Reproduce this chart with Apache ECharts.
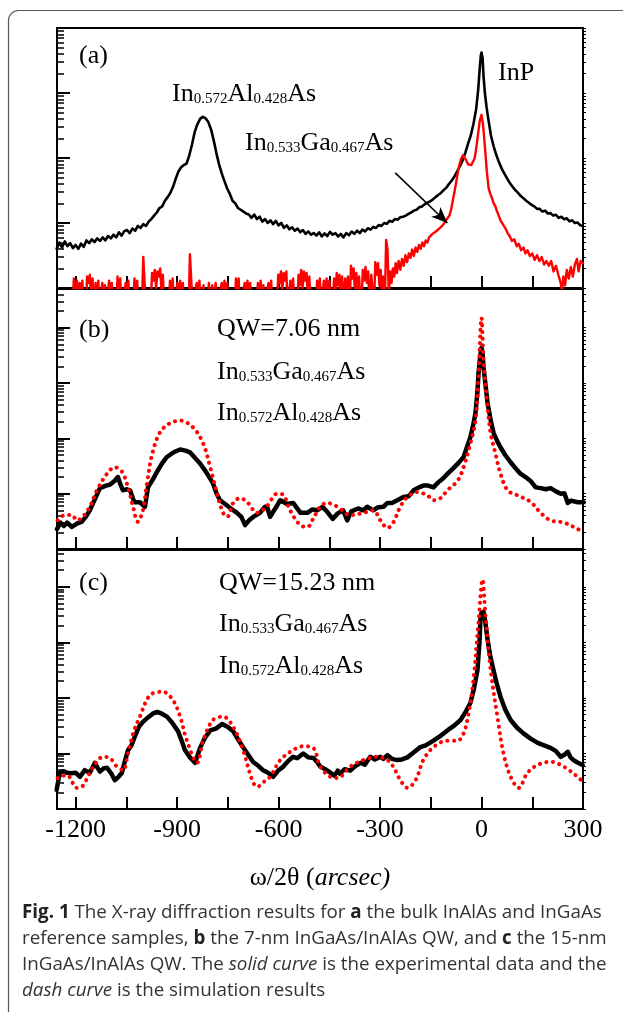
<!DOCTYPE html>
<html><head><meta charset="utf-8">
<script src="https://cdn.jsdelivr.net/npm/echarts@6/dist/echarts.min.js"></script>
<style>html,body{margin:0;padding:0;background:#fff}#c{width:623px;height:1012px}</style>
</head><body><div id="c"></div>
<script>
// ---- tick values ----
const xTickValues = [-1200,-1050,-900,-750,-600,-450,-300,-150,0,150,300];
const xLabelValues = [-1200,-900,-600,-300,0,300];
const yMajorA = [1,10,100,1000,10000];
const yMinorA = [2,3,4,5,6,7,8,9,20,30,40,50,60,70,80,90,200,300,400,500,600,700,800,900,2000,3000,4000,5000,6000,7000,8000,9000];
const yMajorBC = [1,10,100,1000,10000];
const yMinorBC = [2,3,4,5,6,7,8,9,20,30,40,50,60,70,80,90,200,300,400,500,600,700,800,900,2000,3000,4000,5000,6000,7000,8000,9000,20000,30000,40000];

// ---- panel (a): bulk reference samples ----
const panelA_black = [[-1256,4.0],[-1248,5.0],[-1240,4.2],[-1232,5.2],[-1224,4.4],[-1216,4.9],[-1208,4.1],[-1200,4.6],[-1192,4.0],[-1184,4.8],[-1176,4.3],[-1168,5.4],[-1160,4.9],[-1152,5.6],[-1144,5.1],[-1136,5.8],[-1128,5.3],[-1120,6.0],[-1112,5.4],[-1104,6.3],[-1096,5.8],[-1088,6.6],[-1080,6.0],[-1072,7.2],[-1064,6.4],[-1056,7.5],[-1048,7.8],[-1040,7.0],[-1032,8.2],[-1024,7.6],[-1016,9.0],[-1008,8.4],[-1000,9.6],[-992,9.0],[-984,10.5],[-976,11.5],[-968,13.0],[-960,14.5],[-952,17],[-944,18],[-936,22],[-928,25],[-920,29],[-912,36],[-904,48],[-896,62],[-888,72],[-880,78],[-872,82],[-864,110],[-856,160],[-848,250],[-840,330],[-832,400],[-824,430],[-816,410],[-808,360],[-800,280],[-792,190],[-784,120],[-776,80],[-768,58],[-760,44],[-752,34],[-744,28],[-736,22],[-728,20],[-720,17],[-712,16],[-704,15],[-696,14],[-688,13.5],[-680,12],[-672,13.5],[-664,11.5],[-656,12.5],[-648,10.5],[-640,11.5],[-632,10],[-624,11],[-616,9.6],[-608,10.8],[-600,9.2],[-592,10],[-584,8.4],[-576,9.2],[-568,8.0],[-560,8.6],[-552,7.6],[-544,8.2],[-536,7.2],[-528,7.8],[-520,6.8],[-512,7.4],[-504,6.6],[-496,7.0],[-488,6.4],[-480,7.2],[-472,6.2],[-464,6.9],[-456,6.3],[-448,7.3],[-440,6.6],[-432,7.0],[-424,6.2],[-416,6.8],[-408,6.0],[-400,7.0],[-392,6.5],[-384,7.4],[-376,6.8],[-368,7.6],[-360,7.0],[-352,7.9],[-344,7.4],[-336,8.3],[-328,7.9],[-320,8.7],[-312,8.4],[-304,9.3],[-296,9.0],[-288,10],[-280,9.7],[-272,10.8],[-264,10.4],[-256,11.5],[-248,11.2],[-240,12.3],[-232,12.5],[-224,13],[-216,13.8],[-208,14.5],[-200,15.5],[-192,16],[-184,17.5],[-176,18],[-168,19.5],[-160,20.5],[-152,21.5],[-144,23],[-136,25],[-128,27],[-120,29],[-112,32],[-104,35],[-96,40],[-88,45],[-80,52],[-72,62],[-64,75],[-56,92],[-48,120],[-40,165],[-32,220],[-24,330],[-16,560],[-10,1100],[-5,2500],[-2,3800],[0,4200],[3,3500],[6,1800],[10,1000],[15,600],[20,400],[28,220],[36,150],[44,110],[52,85],[60,68],[68,57],[76,48],[84,41],[92,36],[100,32],[108,29],[116,26],[124,24],[132,22],[140,20.5],[148,19],[156,18],[164,16.5],[172,16.5],[180,15],[188,15.5],[196,14],[204,14.2],[212,13],[220,13.4],[228,12],[236,12.5],[244,11.4],[252,11.8],[260,10.6],[268,11],[276,10],[284,10.2],[292,9.2],[300,9.0]];

const panelA_red = [[-1210,0.5],[-1205,1.4],[-1200,0.5],[-1196,1.3],[-1192,0.5],[-1188,1.2],[-1184,0.6],[-1180,1.3],[-1176,0.5],
[-1170,0.5],[-1166,1.5],[-1162,1.2],[-1158,1.6],[-1154,0.6],[-1150,1.4],[-1146,0.5],[-1141,1.2],[-1137,0.6],[-1133,1.3],[-1129,0.5],
[-1125,0.5],[-1121,1.2],[-1117,0.6],[-1113,1.1],[-1109,0.5],[-1101,1.3],[-1097,0.7],[-1093,1.2],[-1089,0.5],
[-1080,0.5],[-1076,1.5],[-1072,0.7],[-1068,1.4],[-1064,0.5],[-1052,1.2],[-1048,0.6],[-1044,1.3],[-1040,0.5],
[-1030,0.5],[-1026,1.4],[-1022,0.6],[-1018,1.3],[-1014,0.5],
[-1004,0.5],[-1000,3.0],[-996,2.8],[-992,0.5],
[-978,0.5],[-974,1.7],[-970,1.3],[-966,1.9],[-962,1.0],[-958,1.8],[-954,1.5],[-950,2.0],[-946,0.9],[-942,1.6],[-938,0.5],
[-925,0.5],[-921,1.3],[-917,0.7],[-913,1.4],[-909,0.5],[-899,1.2],[-895,0.6],[-891,1.3],[-887,0.7],[-883,1.2],[-879,0.5],
[-866,0.5],[-862,3.3],[-858,3.1],[-854,0.5],[-842,1.2],[-838,0.6],[-834,1.3],[-830,0.5],[-822,1.1],[-818,0.5],
[-810,0.5],[-806,1.2],[-802,0.5],[-796,1.1],[-792,0.5],[-786,1.2],[-782,0.5],[-768,1.2],[-764,0.6],[-760,1.3],[-756,0.7],[-752,1.2],[-748,0.5],
[-730,0.5],[-726,1.4],[-722,0.8],[-718,1.4],[-714,0.5],[-700,1.2],[-696,0.6],[-692,1.3],[-688,0.7],[-684,1.2],[-680,0.5],
[-665,0.5],[-661,1.2],[-657,0.6],[-653,1.3],[-649,0.7],[-645,1.1],[-641,0.5],[-630,1.2],[-626,0.6],[-622,1.3],[-618,0.5],
[-605,0.5],[-601,1.6],[-597,1.2],[-593,1.8],[-589,0.9],[-585,1.7],[-581,1.3],[-577,1.8],[-573,0.5],[-565,1.3],[-561,0.7],[-557,1.4],[-553,0.5],
[-545,0.5],[-541,1.6],[-537,1.1],[-533,1.9],[-529,1.0],[-525,1.8],[-521,1.3],[-517,1.7],[-513,0.6],[-509,1.5],[-505,0.5],
[-490,0.5],[-486,1.3],[-482,0.7],[-478,1.4],[-474,0.5],[-466,1.3],[-462,0.7],[-458,1.4],[-454,0.8],[-450,1.3],[-446,0.5],
[-440,0.5],[-436,1.4],[-432,0.8],[-428,1.7],[-424,1.1],[-420,1.6],[-416,0.6],[-412,1.5],[-408,0.5],[-403,1.4],[-399,0.7],[-395,1.5],
[-390,0.5],[-386,2.2],[-382,1.4],[-378,2.0],[-374,0.8],[-370,1.7],[-366,0.6],[-362,1.5],[-359,0.8],
[-355,0.5],[-351,1.9],[-347,1.3],[-343,2.1],[-339,1.2],[-335,1.8],[-331,0.5],[-326,1.6],[-322,0.9],
[-318,0.5],[-314,2.5],[-310,1.6],[-306,2.4],[-302,1.1],[-298,1.9],[-294,0.6],[-290,1.5],
[-286,0.5],[-282,5.5],[-278,4.0],[-274,0.8],[-270,1.8],[-266,1.2],[-262,2.0],[-258,1.5],[-254,2.4],
[-250,1.7],[-245,2.6],[-240,1.9],[-235,2.8],[-230,2.2],[-225,3.2],[-220,2.5],[-215,3.4],[-210,2.9],[-205,3.9],[-200,3.1],[-195,4.2],[-190,3.6],[-185,4.6],[-180,4.0],[-175,5.0],[-170,4.4],[-165,5.4],[-160,5.0],[-155,6.0],[-150,5.6],[-145,6.8],[-140,6.4],[-135,7.4],[-130,7.0],[-125,8.2],[-120,8.0],[-115,9.2],[-110,9.8],[-105,11],[-100,11.5],[-95,13],[-90,16],[-85,22],[-80,30],[-75,42],[-70,60],[-65,80],[-60,98],[-55,110],[-50,108],[-45,92],[-40,80],[-35,76],[-30,78],[-25,80],[-20,100],[-15,150],[-10,240],[-5,380],[0,460],[4,340],[8,200],[12,110],[16,60],[21,34],[26,28],[31,24],[36,20],[41,18],[46,15],[51,13],[56,11],[61,10.5],[66,9],[71,8.2],[77,7],[84,6.2],[90,5.3],[97,5.6],[104,4.4],[110,4.8],[117,3.8],[124,4.2],[130,3.4],[136,3.8],[143,3.1],[150,3.4],[157,2.7],[164,3.2],[171,2.6],[178,3.0],[185,2.3],[192,2.6],[199,2.2],[206,2.6],[213,1.8],[220,2.2],[227,1.6],[234,1.2],[238,0.9],[242,1.5],[247,1.1],[252,1.9],[258,1.4],[264,2.1],[270,1.5],[276,2.3],[282,2.8],[287,1.8],[293,2.6],[300,2.4]];

// arrow annotation (data coordinates) pointing at the InGaAs shoulder
const arrowA = [[-255,59],[-101,10]];

// ---- panel (b): 7.06 nm QW ----
const panelB_exp = [[-1255,2.3],[-1245,3.0],[-1235,2.6],[-1225,3.0],[-1211,2.5],[-1195,2.9],[-1182,3.1],[-1170,3.8],[-1158,5.0],[-1145,7.5],[-1128,12.6],[-1110,14],[-1099,14.5],[-1085,17],[-1075,20],[-1068,15],[-1060,11.5],[-1050,12],[-1039,11.5],[-1030,8],[-1025,7],[-1010,7],[-995,5.8],[-986,13],[-972,18],[-959,25],[-945,35],[-930,46],[-910,56],[-891,63],[-875,60],[-862,56],[-848,45],[-832,35],[-815,25],[-794,15.5],[-783,10],[-773,7.6],[-758,6.5],[-743,5.5],[-723,4.5],[-710,3.8],[-699,2.7],[-687,3.3],[-675,3.8],[-655,4.5],[-640,5.8],[-634,5.8],[-625,3.8],[-616,4.7],[-605,6.0],[-595,7.6],[-575,6.5],[-557,6.8],[-535,4.5],[-515,4.5],[-500,5.2],[-486,5.0],[-470,5.8],[-455,4.6],[-440,3.5],[-425,4.4],[-409,5.0],[-397,3.3],[-385,4.8],[-365,5.4],[-350,5.0],[-338,5.8],[-320,5.0],[-308,5.6],[-290,5.8],[-278,6.8],[-265,6.8],[-249,7.6],[-231,8.7],[-215,9.0],[-201,11.5],[-185,13],[-172,14],[-158,14],[-142,13],[-128,16],[-113,19],[-100,23],[-83,29],[-68,36],[-53,46],[-43,70],[-33,105],[-25,170],[-18,282],[-12,700],[-9,1480],[-4,3000],[0,4365],[3,3500],[6,1905],[12,900],[18,427],[28,200],[36,123],[46,90],[56,69],[70,50],[86,37],[100,29],[115,23],[130,20],[145,17],[160,13],[175,12.6],[190,12],[204,12.6],[220,11],[234,10],[245,10.2],[255,6.8],[265,7.5],[284,7.0],[302,7.0]];

const panelB_sim = [[-1253,3.3],[-1232,4.1],[-1211,4.1],[-1196,3.3],[-1179,3.8],[-1158,5.8],[-1137,11.5],[-1107,23],[-1084,30],[-1063,25],[-1045,13],[-1030,5.8],[-1016,3.1],[-1001,5],[-989,15.5],[-971,60],[-942,150],[-891,210],[-853,158],[-823,81],[-802,30],[-782,10],[-764,4.5],[-752,3.8],[-734,6.8],[-714,8.3],[-693,7.1],[-663,4.5],[-634,6.0],[-604,10],[-586,9.5],[-566,5],[-536,2.7],[-515,2.5],[-495,3.8],[-477,5.8],[-456,6.8],[-426,5.8],[-388,4.1],[-349,4.5],[-320,5],[-299,3.3],[-278,2.4],[-261,3.0],[-240,5.8],[-219,8.7],[-190,10.7],[-160,9.3],[-142,7.6],[-121,8.3],[-101,11.5],[-71,17],[-53,30],[-33,81],[-18,210],[-9,1260],[0,15000],[6,2500],[18,363],[27,123],[41,54],[56,23],[77,11.5],[107,9.3],[145,7.1],[175,4.5],[204,3.3],[243,3.0],[284,2.3],[299,2.0]];

// ---- panel (c): 15.23 nm QW ----
const panelC_exp = [[-1256,2.2],[-1247,4.5],[-1236,4.8],[-1226,4.5],[-1212,4.4],[-1200,4.5],[-1187,3.8],[-1173,5.0],[-1158,4.5],[-1143,6.8],[-1135,5.5],[-1128,4.7],[-1117,5.4],[-1107,5.5],[-1095,4.4],[-1084,3.3],[-1073,3.8],[-1063,4.5],[-1055,7],[-1045,11.5],[-1035,14],[-1025,20],[-1013,30],[-1001,37],[-985,45],[-972,52],[-959,56],[-945,52],[-930,46],[-915,36],[-897,25],[-885,16],[-877,11.5],[-862,8.5],[-847,6.8],[-840,9],[-832,12.6],[-818,19],[-802,26],[-785,28],[-767,34],[-750,30],[-734,25],[-720,18],[-705,13],[-690,9.5],[-675,7],[-660,6],[-646,5],[-631,4.5],[-616,3.8],[-600,5],[-586,5.8],[-570,7.5],[-557,8.7],[-545,8.2],[-527,10],[-512,8.5],[-497,8.3],[-486,7.0],[-477,5.8],[-462,5.2],[-447,4.5],[-435,4.0],[-425,4.9],[-418,4.3],[-405,5.2],[-388,4.9],[-375,5.8],[-358,6.8],[-345,6.3],[-329,8.7],[-315,7.8],[-299,8.7],[-290,8.0],[-278,9.3],[-265,8.0],[-249,7.6],[-235,7.8],[-219,8.5],[-200,10.5],[-181,13],[-165,14],[-142,17],[-120,21],[-101,26],[-80,32],[-62,40],[-47,56],[-33,81],[-22,150],[-12,316],[-6,1000],[-3,2900],[0,3400],[6,3550],[10,2600],[18,1120],[25,600],[33,363],[45,180],[56,105],[70,62],[86,40],[105,29],[124,23],[145,18.5],[166,15.5],[185,14],[204,12.6],[220,11],[234,8.7],[245,9.5],[255,10.7],[263,8.5],[272,7.6],[285,6.8],[299,6.2]];

const panelC_sim = [[-1253,3.6],[-1226,4.1],[-1196,2.4],[-1179,2.6],[-1158,4.5],[-1137,7.1],[-1120,8.7],[-1099,8.3],[-1078,5.8],[-1060,5.0],[-1045,10],[-1030,23],[-1010,46],[-980,112],[-942,129],[-912,91],[-891,46],[-871,17],[-841,6.8],[-823,17],[-794,40],[-764,46],[-734,30],[-705,11.5],[-678,3.3],[-663,2.5],[-646,3.0],[-625,3.8],[-595,7.6],[-557,11.5],[-527,13.5],[-497,12.5],[-477,5.8],[-447,3.8],[-426,3.6],[-388,5.8],[-349,7.6],[-308,8.7],[-278,7.6],[-261,5.8],[-240,3.3],[-219,2.4],[-195,3.3],[-172,7.6],[-142,13],[-101,17],[-71,17],[-53,23],[-38,54],[-24,210],[-9,2240],[3,13500],[12,2900],[27,316],[47,46],[65,10],[86,3.8],[110,2.4],[136,4.5],[166,6.2],[204,7.1],[243,5.8],[284,3.8],[299,3.1]];

// ---- layout / styles ----
const SERIF = '"Liberation Serif", "Times New Roman", serif';
const X_MIN = -1255, X_MAX = 300;
const grids = [
  {left:57, right:40, top:28, height:260},
  {left:57, right:40, top:289, height:260},
  {left:57, right:40, top:550, height:259}
];
const yRanges = [[1,10000],[1,50000],[1,46000]];
const majors = [yMajorA, yMajorBC, yMajorBC];
const minors = [yMinorA, yMinorBC, yMinorBC];

const xAxes = [], yAxes = [];
grids.forEach((g, i) => {
  const last = i === 2;
  xAxes.push({
    type:'value', gridIndex:i, min:X_MIN, max:X_MAX, position:'bottom',
    axisLine:{show:true, onZero:false, lineStyle:{color:'#000', width:2}},
    axisTick:{show:true, inside:true, length:12, customValues:xTickValues, lineStyle:{color:'#000', width:2}},
    axisLabel:{show:last, customValues:xLabelValues, margin:8, color:'#000', fontFamily:SERIF, fontSize:26, formatter:v=>String(v)},
    splitLine:{show:false},
    name: last ? '{n|ω/2θ (}{i|arcsec)}' : '',
    nameLocation:'middle', nameGap:56,
    nameTextStyle:{rich:{n:{fontFamily:SERIF, fontSize:26, color:'#000'}, i:{fontFamily:SERIF, fontSize:26, fontStyle:'italic', color:'#000'}}}
  });
  xAxes.push({
    type:'value', gridIndex:i, min:X_MIN, max:X_MAX, position:'top',
    axisLine:{show:true, onZero:false, lineStyle:{color:'#000', width:2}},
    axisTick:{show:false}, axisLabel:{show:false}, splitLine:{show:false}
  });
  const [mn, mx] = yRanges[i];
  yAxes.push({
    type:'log', logBase:10, gridIndex:i, min:mn, max:mx, position:'left',
    axisLine:{show:true, onZero:false, lineStyle:{color:'#000', width:2}},
    axisTick:{show:true, inside:true, length:13, customValues:majors[i], lineStyle:{color:'#000', width:2}},
    axisLabel:{show:false}, splitLine:{show:false}
  });
  yAxes.push({
    type:'log', logBase:10, gridIndex:i, min:mn, max:mx, position:'left',
    axisLine:{show:false, onZero:false},
    axisTick:{show:true, inside:true, length:7, customValues:minors[i], lineStyle:{color:'#000', width:1.5}},
    axisLabel:{show:false}, splitLine:{show:false}
  });
  yAxes.push({
    type:'log', logBase:10, gridIndex:i, min:mn, max:mx, position:'right',
    axisLine:{show:true, onZero:false, lineStyle:{color:'#000', width:2}},
    axisTick:{show:true, inside:false, length:3, customValues:majors[i].concat(minors[i]), lineStyle:{color:'#000', width:1}},
    axisLabel:{show:false}, splitLine:{show:false}
  });
});

function solid(data, gi, color, width) {
  return {type:'line', data, xAxisIndex:gi*2, yAxisIndex:gi*3, showSymbol:false, symbol:'none',
    clip:true, animation:false, lineStyle:{color, width, join:'round', cap:'round'}, z:3};
}
function dotted(data, gi) {
  return {type:'line', data, xAxisIndex:gi*2, yAxisIndex:gi*3, showSymbol:false, symbol:'none',
    smooth:0.35, clip:true, animation:false,
    lineStyle:{color:'#ff0000', width:4, type:[0.1, 6.5], cap:'round'}, z:4};
}

const redA = solid(panelA_red, 0, '#ff0000', 2.4);
redA.markLine = {
  silent:true, animation:false, symbol:['none','arrow'], symbolSize:[10,16],
  lineStyle:{color:'#000', width:1.6, type:'solid'}, label:{show:false},
  data:[[{coord:arrowA[0]},{coord:arrowA[1]}]]
};

const series = [
  solid(panelA_black, 0, '#000', 2.6),
  redA,
  solid(panelB_exp, 1, '#000', 4.5),
  dotted(panelB_sim, 1),
  solid(panelC_exp, 2, '#000', 4.5),
  dotted(panelC_sim, 2)
];

const richChem = {
  m:{fontFamily:SERIF, fontSize:26, verticalAlign:'bottom', fill:'#000'},
  s:{fontFamily:SERIF, fontSize:15, verticalAlign:'bottom', fill:'#000'}
};
function label(text, x, baseline) {
  return {type:'text', x, y:baseline + 6, z:100,
    style:{text, rich:richChem, fontFamily:SERIF, fontSize:26, fill:'#000', align:'left', verticalAlign:'bottom'}};
}
const GaAs = '{m|In}{s|0.533}{m|Ga}{s|0.467}{m|As}';
const AlAs = '{m|In}{s|0.572}{m|Al}{s|0.428}{m|As}';

const SANS = '"Open Sans", "Noto Sans", sans-serif';
const CAP = 18.8;
const captionText = [
  '{b|Fig. 1} The X-ray diffraction results for {b|a} the bulk InAlAs and InGaAs',
  'reference samples, {b|b} the 7-nm InGaAs/InAlAs QW, and {b|c} the 15-nm',
  'InGaAs/InAlAs QW. The {i|solid curve} is the experimental data and the',
  '{i|dash curve} is the simulation results'
].join('\n');

const graphic = [
  {type:'rect', shape:{x:8.5, y:10.5, width:700, height:1100, r:10}, z:0,
   style:{fill:'none', stroke:'#555', lineWidth:1.2}},
  label('{m|(a)}', 79, 63),
  label(AlAs, 172, 101),
  label(GaAs, 245, 150),
  label('{m|InP}', 498, 80),
  label('{m|(b)}', 79, 337),
  label('{m|QW=7.06 nm}', 217, 336),
  label(GaAs, 217, 379),
  label(AlAs, 217, 420),
  label('{m|(c)}', 79, 590),
  label('{m|QW=15.23 nm}', 219, 590),
  label(GaAs, 219, 631),
  label(AlAs, 219, 673),
  {type:'text', x:22, y:900, z:100,
   style:{text:captionText, fontFamily:SANS, fontSize:CAP, fill:'#333', lineHeight:26, align:'left', verticalAlign:'top',
     rich:{b:{fontFamily:SANS, fontSize:CAP, fontWeight:'bold', fill:'#222', lineHeight:26},
           i:{fontFamily:SANS, fontSize:CAP, fontStyle:'italic', fill:'#333', lineHeight:26}}}}
];

const chart = echarts.init(document.getElementById('c'), null, {renderer:'canvas'});
chart.setOption({
  animation:false, backgroundColor:'#fff',
  grid:grids, xAxis:xAxes, yAxis:yAxes, series, graphic
});
</script>
</body></html>
